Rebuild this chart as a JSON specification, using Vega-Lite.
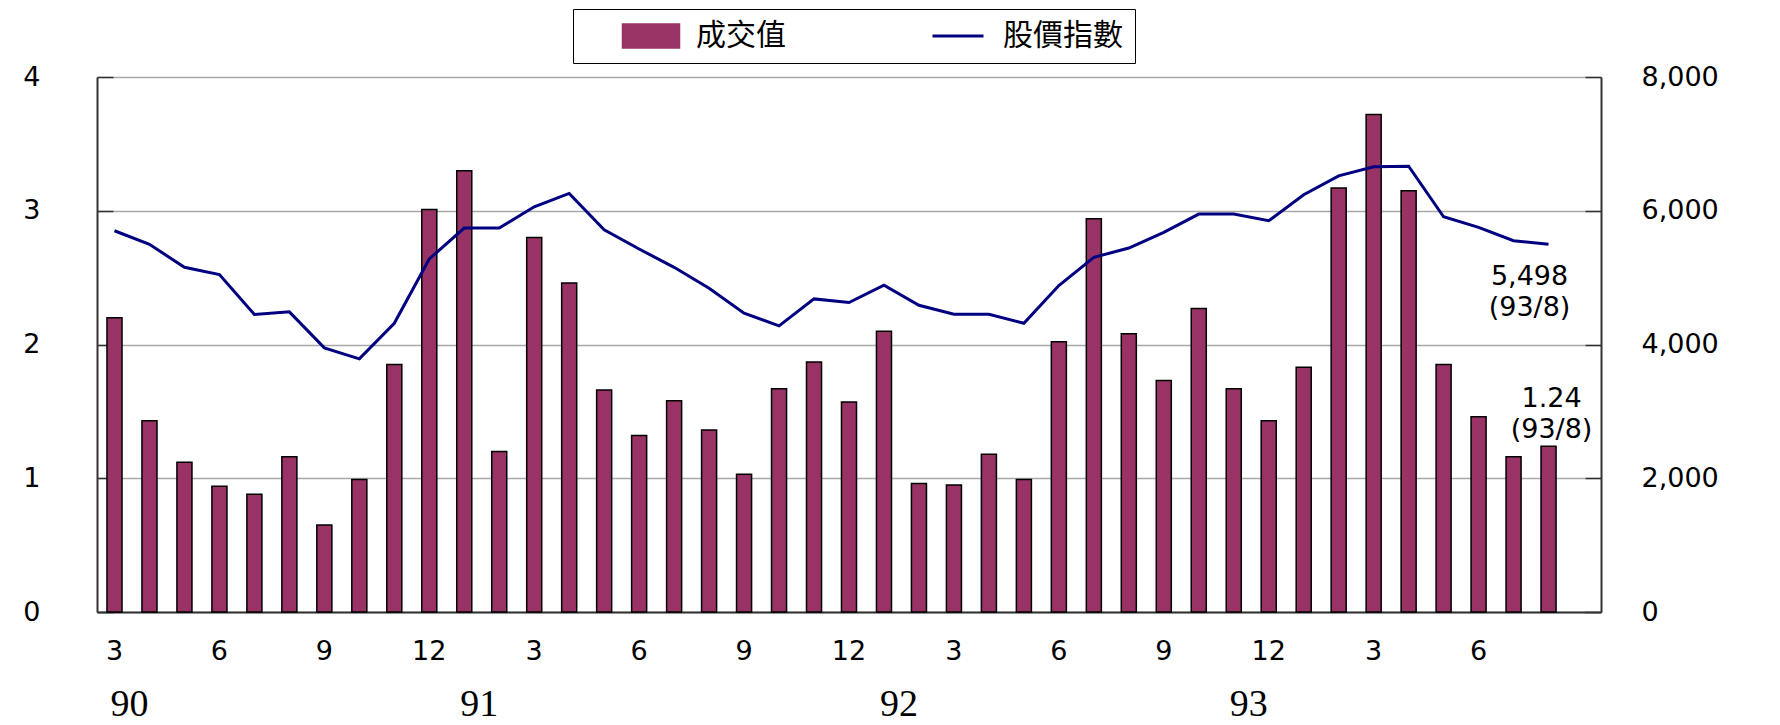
{
  "$schema": "https://vega.github.io/schema/vega-lite/v6.json",
  "width": 1504,
  "height": 535,
  "autosize": {"type": "none"},
  "padding": {"left": 97, "top": 77, "right": 179, "bottom": 113},
  "background": "white",
  "config": {"view": {"stroke": null}, "font": "DejaVu Sans"},
  "datasets": {
    "monthly": [
      {"month": "90/3", "value": 2.20, "index": 5701},
      {"month": "90/4", "value": 1.43, "index": 5498},
      {"month": "90/5", "value": 1.12, "index": 5154},
      {"month": "90/6", "value": 0.94, "index": 5045},
      {"month": "90/7", "value": 0.88, "index": 4448},
      {"month": "90/8", "value": 1.16, "index": 4488},
      {"month": "90/9", "value": 0.65, "index": 3950},
      {"month": "90/10", "value": 0.99, "index": 3786},
      {"month": "90/11", "value": 1.85, "index": 4318},
      {"month": "90/12", "value": 3.01, "index": 5279},
      {"month": "91/1", "value": 3.30, "index": 5741},
      {"month": "91/2", "value": 1.20, "index": 5741},
      {"month": "91/3", "value": 2.80, "index": 6060},
      {"month": "91/4", "value": 2.46, "index": 6259},
      {"month": "91/5", "value": 1.66, "index": 5716},
      {"month": "91/6", "value": 1.32, "index": 5428},
      {"month": "91/7", "value": 1.58, "index": 5154},
      {"month": "91/8", "value": 1.36, "index": 4841},
      {"month": "91/9", "value": 1.03, "index": 4468},
      {"month": "91/10", "value": 1.67, "index": 4279},
      {"month": "91/11", "value": 1.87, "index": 4682},
      {"month": "91/12", "value": 1.57, "index": 4627},
      {"month": "92/1", "value": 2.10, "index": 4886},
      {"month": "92/2", "value": 0.96, "index": 4587},
      {"month": "92/3", "value": 0.95, "index": 4453},
      {"month": "92/4", "value": 1.18, "index": 4453},
      {"month": "92/5", "value": 0.99, "index": 4318},
      {"month": "92/6", "value": 2.02, "index": 4881},
      {"month": "92/7", "value": 2.94, "index": 5303},
      {"month": "92/8", "value": 2.08, "index": 5443},
      {"month": "92/9", "value": 1.73, "index": 5677},
      {"month": "92/10", "value": 2.27, "index": 5950},
      {"month": "92/11", "value": 1.67, "index": 5950},
      {"month": "92/12", "value": 1.43, "index": 5851},
      {"month": "93/1", "value": 1.83, "index": 6239},
      {"month": "93/2", "value": 3.17, "index": 6522},
      {"month": "93/3", "value": 3.72, "index": 6657},
      {"month": "93/4", "value": 3.15, "index": 6667},
      {"month": "93/5", "value": 1.85, "index": 5910},
      {"month": "93/6", "value": 1.46, "index": 5751},
      {"month": "93/7", "value": 1.16, "index": 5552},
      {"month": "93/8", "value": 1.24, "index": 5498}
    ],
    "barNote": [{"month": "93/8", "value": 1.24, "label": ["1.24", "(93/8)"]}],
    "lineNote": [{"month": "93/8", "index": 5498, "label": ["5,498", "(93/8)"]}]
  },
  "layer": [
    {
      "layer": [
        {
          "data": {"name": "monthly"},
          "mark": {"type": "bar", "stroke": "#000000", "strokeWidth": 1.5},
          "encoding": {
            "x": {
              "field": "month", "type": "ordinal",
              "scale": {"domain": ["90/3","90/4","90/5","90/6","90/7","90/8","90/9","90/10","90/11","90/12","91/1","91/2","91/3","91/4","91/5","91/6","91/7","91/8","91/9","91/10","91/11","91/12","92/1","92/2","92/3","92/4","92/5","92/6","92/7","92/8","92/9","92/10","92/11","92/12","93/1","93/2","93/3","93/4","93/5","93/6","93/7","93/8","93/9"], "paddingInner": 0.57, "paddingOuter": 0.285},
              "axis": {
                "title": null, "orient": "bottom", "ticks": false, "grid": false,
                "domainColor": "#333333", "domainWidth": 2,
                "labelAngle": 0, "labelOverlap": false, "labelFontSize": 27, "labelColor": "#000000", "labelPadding": 26,
                "labelExpr": "datum.value == '93/9' ? '' : (indexof(['3','6','9','12'], split(datum.value, '/')[1]) >= 0 ? split(datum.value, '/')[1] : '')"
              }
            },
            "y": {
              "field": "value", "type": "quantitative",
              "scale": {"domain": [0, 4], "nice": false},
              "axis": {
                "title": null, "orient": "left", "values": [0, 1, 2, 3, 4], "format": "d",
                "grid": true, "gridColor": "#a8a8a8", "gridWidth": 1.5,
                "domainColor": "#333333", "domainWidth": 2,
                "tickColor": "#333333", "tickSize": -16, "tickWidth": 1.5,
                "labelFontSize": 27, "labelColor": "#000000", "labelPadding": 73
              }
            },
            "color": {
              "datum": "成交值", "type": "nominal",
              "scale": {"domain": ["成交值", "股價指數"], "range": ["#993366", "#000080"]},
              "legend": {
                "title": null, "orient": "none", "legendX": 476, "legendY": -68,
                "direction": "horizontal", "columns": 2, "gridAlign": "all",
                "strokeColor": "#000000", "fillColor": "#ffffff", "padding": 12,
                "labelFont": "Noto Sans CJK TC", "labelFontSize": 30, "labelColor": "#000000", "labelOffset": 30,
                "symbolSize": 900, "symbolOffset": 51, "columnPadding": 76,
                "symbolType": {"expr": "datum.value === '成交值' ? 'M-1.9,-0.8L1.9,-0.8L1.9,0.8L-1.9,0.8Z' : 'M-1.7,0L1.7,0'"},
                "symbolStrokeColor": {"expr": "datum.value === '成交值' ? '#000000' : '#000080'"},
                "symbolStrokeWidth": {"expr": "datum.value === '成交值' ? 1.5 : 3"}
              }
            }
          }
        },
        {
          "data": {"name": "barNote"},
          "mark": {"type": "text", "align": "center", "baseline": "middle", "fontSize": 27, "lineHeight": 31, "dx": 3, "dy": -47, "color": "#000000"},
          "encoding": {
            "x": {"field": "month", "type": "ordinal", "title": null},
            "y": {"field": "value", "type": "quantitative"},
            "text": {"field": "label"}
          }
        }
      ]
    },
    {
      "layer": [
        {
          "data": {"name": "monthly"},
          "mark": {"type": "line", "strokeWidth": 3},
          "encoding": {
            "x": {
              "field": "month", "type": "ordinal",
              "scale": {"domain": ["90/3","90/4","90/5","90/6","90/7","90/8","90/9","90/10","90/11","90/12","91/1","91/2","91/3","91/4","91/5","91/6","91/7","91/8","91/9","91/10","91/11","91/12","92/1","92/2","92/3","92/4","92/5","92/6","92/7","92/8","92/9","92/10","92/11","92/12","93/1","93/2","93/3","93/4","93/5","93/6","93/7","93/8","93/9"], "paddingInner": 0.57, "paddingOuter": 0.285},
              "axis": {
                "title": null, "orient": "bottom", "ticks": false, "domain": false, "grid": false,
                "labelAngle": 0, "labelOverlap": false, "labelFont": "Liberation Serif", "labelFontSize": 38,
                "labelColor": "#000000", "labelPadding": 73, "labelOffset": 15,
                "labelExpr": "datum.value == '90/3' ? '90' : datum.value == '91/1' ? '91' : datum.value == '92/1' ? '92' : datum.value == '92/11' ? '93' : ''"
              }
            },
            "y": {
              "field": "index", "type": "quantitative",
              "scale": {"domain": [0, 8000], "nice": false},
              "axis": {
                "title": null, "orient": "right", "values": [0, 2000, 4000, 6000, 8000], "format": ",d",
                "grid": false, "domainColor": "#333333", "domainWidth": 2,
                "tickColor": "#333333", "tickSize": -16, "tickWidth": 1.5,
                "labelFontSize": 27, "labelColor": "#000000", "labelPadding": 56
              }
            },
            "color": {"datum": "股價指數", "type": "nominal"}
          }
        },
        {
          "data": {"name": "lineNote"},
          "mark": {"type": "text", "align": "center", "baseline": "middle", "fontSize": 27, "lineHeight": 31, "dx": -19, "dy": 33, "color": "#000000"},
          "encoding": {
            "x": {"field": "month", "type": "ordinal", "title": null},
            "y": {"field": "index", "type": "quantitative"},
            "text": {"field": "label"}
          }
        }
      ]
    }
  ],
  "resolve": {"scale": {"y": "independent"}, "axis": {"x": "independent"}}
}
